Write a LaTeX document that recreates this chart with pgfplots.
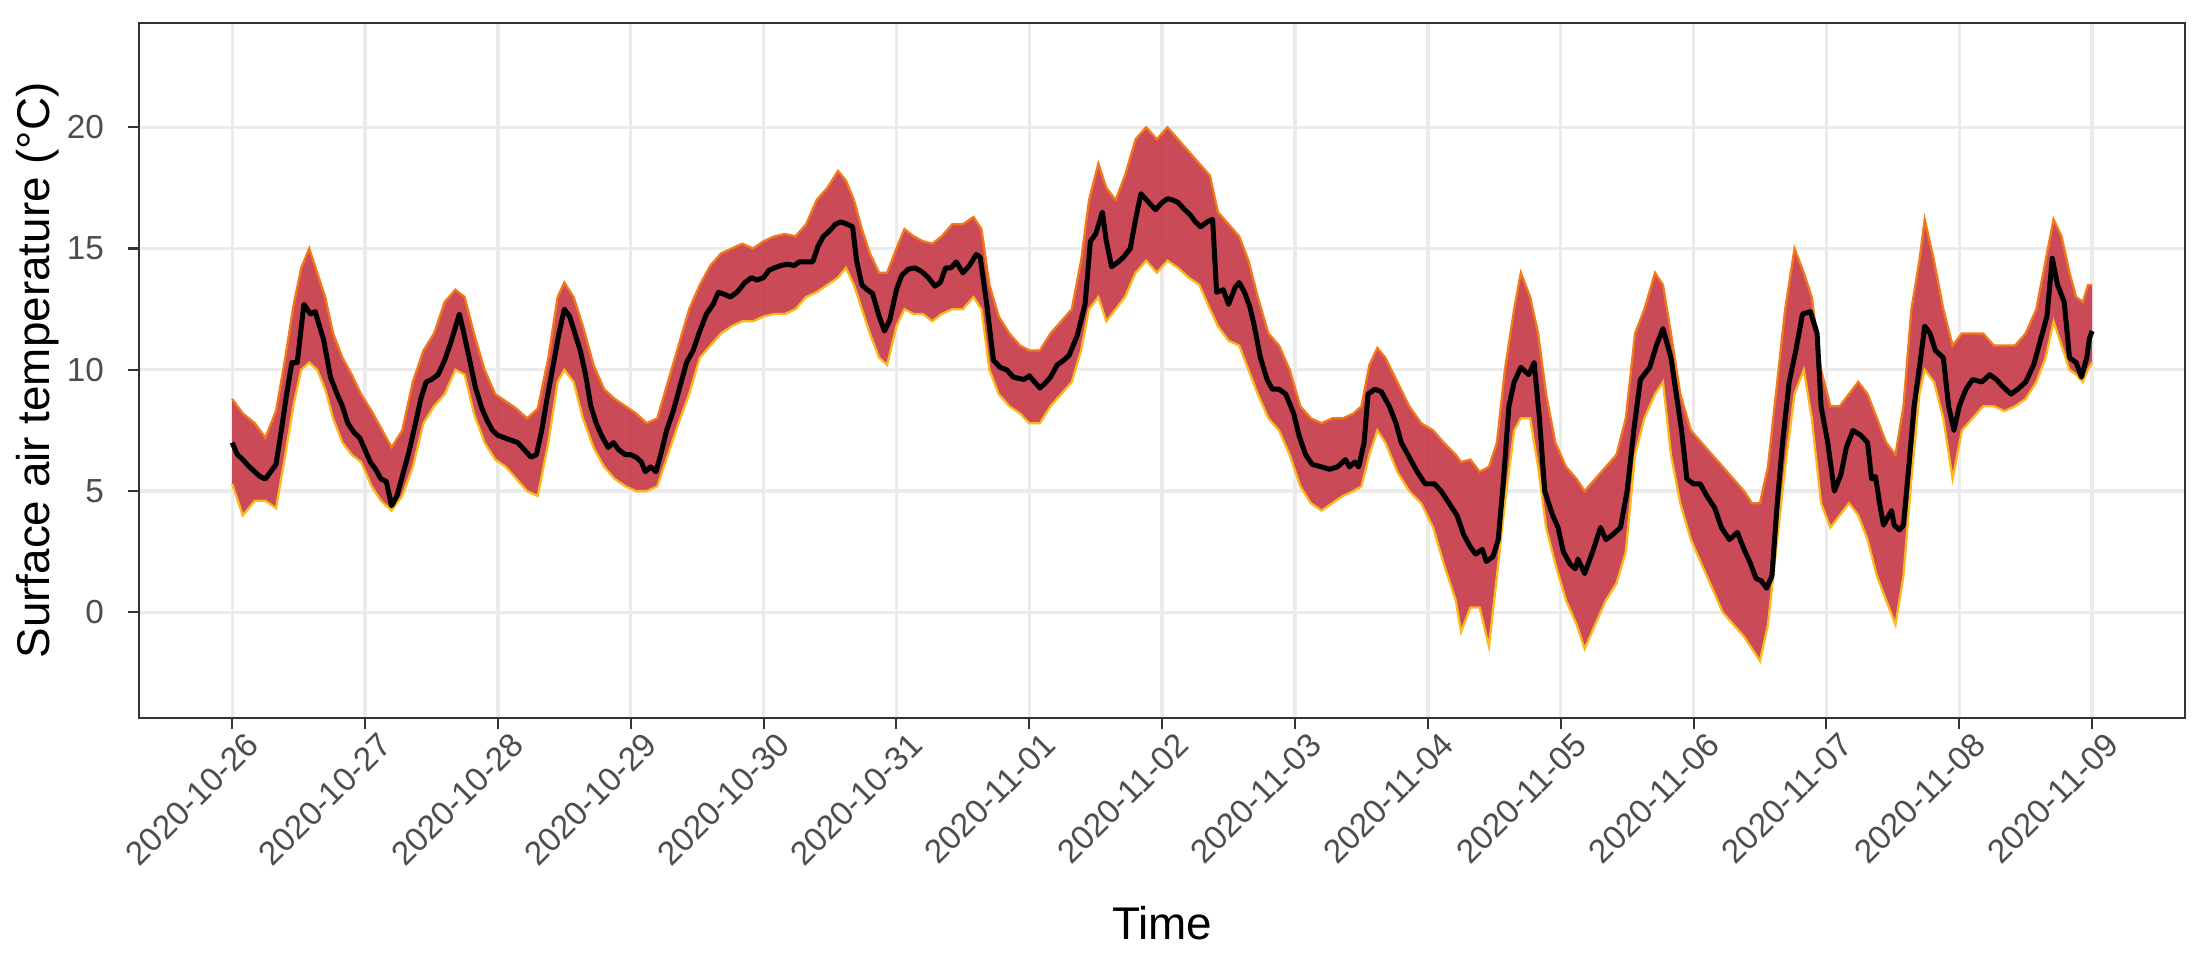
\documentclass[border=0pt]{standalone}
\usepackage{fontspec}
\setmainfont{Liberation Sans}
\usepackage{pgfplots}
\pgfplotsset{compat=1.18}
\usepackage{pgfplotstable}
\usepgfplotslibrary{fillbetween}

\definecolor{gridc}{HTML}{EBEBEB}
\definecolor{framec}{HTML}{333333}
\definecolor{tickc}{HTML}{4D4D4D}
\definecolor{band}{HTML}{C8404F}
\definecolor{ensup}{HTML}{F37819}
\definecolor{enslo}{HTML}{F9B81E}

% ensemble mean (days since 2020-10-26, deg C)
\pgfplotstableread{
d T
0 7.0
0.04 6.5
0.08 6.3
0.13 6.0
0.17 5.8
0.21 5.6
0.25 5.5
0.29 5.8
0.33 6.1
0.37 7.5
0.41 9.0
0.45 10.3
0.49 10.3
0.54 12.7
0.59 12.3
0.625 12.4
0.69 11.2
0.74 9.7
0.79 9.0
0.83 8.5
0.87 7.8
0.92 7.4
0.96 7.2
1.0 6.7
1.04 6.2
1.08 5.9
1.12 5.5
1.16 5.4
1.2 4.4
1.24 4.8
1.29 5.8
1.33 6.6
1.38 7.8
1.42 8.8
1.46 9.5
1.5 9.6
1.55 9.8
1.6 10.4
1.65 11.2
1.71 12.3
1.74 11.6
1.78 10.6
1.83 9.3
1.88 8.4
1.92 7.9
1.96 7.5
2.0 7.3
2.05 7.2
2.1 7.1
2.15 7.0
2.2 6.7
2.25 6.4
2.29 6.5
2.33 7.5
2.37 8.8
2.42 10.3
2.46 11.5
2.5 12.5
2.54 12.2
2.58 11.5
2.62 10.8
2.66 9.8
2.7 8.5
2.74 7.8
2.78 7.3
2.83 6.8
2.87 7.0
2.91 6.7
2.96 6.5
3.0 6.5
3.04 6.4
3.08 6.2
3.11 5.8
3.15 6.0
3.19 5.8
3.23 6.6
3.27 7.5
3.32 8.3
3.37 9.3
3.42 10.3
3.47 10.8
3.52 11.6
3.57 12.3
3.62 12.7
3.66 13.2
3.71 13.1
3.75 13.0
3.8 13.2
3.86 13.6
3.91 13.8
3.95 13.7
4.0 13.8
4.04 14.1
4.08 14.2
4.13 14.3
4.18 14.35
4.23 14.3
4.27 14.45
4.32 14.45
4.37 14.45
4.41 15.1
4.45 15.5
4.5 15.75
4.54 16.0
4.58 16.1
4.63 16.0
4.67 15.9
4.7 14.5
4.74 13.5
4.78 13.3
4.82 13.15
4.87 12.2
4.91 11.6
4.95 12.05
5.0 13.3
5.04 13.9
5.09 14.15
5.14 14.2
5.19 14.05
5.24 13.8
5.29 13.45
5.33 13.6
5.37 14.2
5.41 14.2
5.45 14.45
5.5 14.0
5.55 14.3
5.6 14.75
5.63 14.65
5.68 12.7
5.73 10.4
5.78 10.1
5.83 10.0
5.88 9.7
5.96 9.6
6.0 9.75
6.04 9.5
6.08 9.25
6.12 9.45
6.16 9.7
6.21 10.2
6.26 10.4
6.3 10.6
6.36 11.4
6.42 12.7
6.46 15.3
6.5 15.6
6.55 16.5
6.58 15.3
6.62 14.25
6.67 14.45
6.71 14.65
6.76 15.0
6.8 16.2
6.84 17.26
6.9 16.9
6.95 16.6
7.0 16.9
7.04 17.05
7.08 17.0
7.12 16.9
7.17 16.6
7.21 16.4
7.25 16.1
7.29 15.9
7.34 16.1
7.38 16.2
7.41 13.2
7.46 13.3
7.5 12.7
7.55 13.4
7.58 13.6
7.62 13.2
7.66 12.6
7.69 11.9
7.74 10.5
7.79 9.6
7.83 9.2
7.88 9.2
7.93 9.0
7.99 8.2
8.03 7.3
8.08 6.5
8.13 6.1
8.2 6.0
8.26 5.9
8.32 6.0
8.38 6.3
8.41 6.0
8.45 6.2
8.48 6.0
8.52 7.0
8.55 9.0
8.6 9.2
8.65 9.1
8.71 8.5
8.76 7.8
8.8 7.0
8.85 6.5
8.92 5.8
8.98 5.3
9.05 5.3
9.1 5.0
9.16 4.5
9.22 4.0
9.27 3.2
9.32 2.7
9.36 2.4
9.41 2.6
9.44 2.1
9.49 2.3
9.53 3.0
9.57 5.5
9.61 8.5
9.65 9.5
9.7 10.1
9.76 9.8
9.8 10.3
9.84 8.0
9.88 5.0
9.94 4.0
9.98 3.5
10.02 2.5
10.07 2.0
10.11 1.8
10.13 2.2
10.18 1.6
10.24 2.5
10.3 3.5
10.34 3.0
10.39 3.2
10.45 3.5
10.5 5.0
10.55 7.5
10.6 9.6
10.67 10.1
10.72 11.0
10.77 11.7
10.83 10.5
10.87 9.0
10.91 7.5
10.95 5.5
11.0 5.3
11.05 5.3
11.1 4.8
11.16 4.3
11.21 3.5
11.27 3.0
11.33 3.3
11.38 2.6
11.43 2.0
11.47 1.4
11.51 1.3
11.55 1.0
11.59 1.5
11.63 4.5
11.67 7.0
11.72 9.5
11.77 10.8
11.82 12.3
11.88 12.4
11.93 11.5
11.96 8.5
12.01 7.0
12.06 5.0
12.11 5.7
12.15 6.8
12.2 7.5
12.26 7.3
12.31 7.0
12.34 5.5
12.37 5.6
12.4 4.5
12.43 3.6
12.49 4.2
12.51 3.6
12.55 3.4
12.58 3.6
12.62 6.0
12.66 8.5
12.71 10.5
12.74 11.8
12.78 11.5
12.82 10.8
12.88 10.5
12.92 8.5
12.96 7.5
13.0 8.5
13.05 9.2
13.1 9.6
13.17 9.5
13.23 9.8
13.28 9.6
13.33 9.3
13.39 9.0
13.44 9.2
13.5 9.5
13.56 10.2
13.6 11.0
13.66 12.2
13.7 14.6
13.74 13.5
13.79 12.8
13.83 10.5
13.88 10.3
13.92 9.7
13.96 10.5
13.98 11.3
14.0 11.6
}\meanT

% ensemble spread: upper and lower edge of the members
\pgfplotstableread{
d up lo
0 8.8 5.3
0.08 8.2 4.0
0.17 7.8 4.6
0.25 7.2 4.6
0.33 8.3 4.3
0.4 10.5 6.5
0.46 12.6 8.5
0.52 14.2 10.0
0.58 15.0 10.3
0.64 14.0 10.0
0.7 13.0 9.2
0.76 11.5 8.0
0.83 10.5 7.0
0.9 9.8 6.5
0.97 9.0 6.2
1.05 8.3 5.2
1.12 7.6 4.6
1.2 6.8 4.2
1.28 7.5 4.8
1.36 9.5 6.0
1.44 10.8 7.8
1.52 11.5 8.5
1.6 12.8 9.0
1.68 13.3 10.0
1.75 13.0 9.8
1.82 11.5 8.2
1.9 10.0 7.0
1.98 9.0 6.3
2.06 8.7 6.0
2.14 8.4 5.5
2.22 8.0 5.0
2.3 8.4 4.8
2.38 10.5 7.0
2.45 13.0 9.5
2.5 13.6 10.0
2.57 13.0 9.5
2.64 11.8 8.0
2.72 10.2 6.8
2.8 9.2 6.0
2.88 8.8 5.5
2.96 8.5 5.2
3.04 8.2 5.0
3.12 7.8 5.0
3.2 8.0 5.2
3.28 9.5 6.5
3.36 11.0 7.8
3.44 12.5 9.0
3.52 13.5 10.5
3.6 14.3 11.0
3.68 14.8 11.5
3.76 15.0 11.8
3.84 15.2 12.0
3.92 15.0 12.0
4.0 15.3 12.2
4.08 15.5 12.3
4.16 15.6 12.3
4.24 15.5 12.5
4.32 16.0 13.0
4.4 17.0 13.2
4.48 17.5 13.5
4.56 18.2 13.8
4.62 17.8 14.2
4.68 17.0 13.5
4.74 15.8 12.5
4.8 14.8 11.5
4.87 14.0 10.5
4.93 14.0 10.2
5.0 15.0 11.8
5.06 15.8 12.5
5.13 15.5 12.3
5.2 15.3 12.3
5.27 15.2 12.0
5.34 15.5 12.3
5.42 16.0 12.5
5.5 16.0 12.5
5.58 16.3 13.0
5.64 15.8 12.5
5.7 13.5 10.0
5.77 12.2 9.0
5.85 11.5 8.5
5.93 11.0 8.2
6.0 10.8 7.8
6.08 10.8 7.8
6.16 11.5 8.5
6.24 12.0 9.0
6.32 12.5 9.5
6.39 14.5 10.8
6.45 17.0 12.5
6.52 18.5 13.0
6.58 17.5 12.0
6.65 17.0 12.5
6.72 18.0 13.0
6.8 19.5 14.0
6.88 20.0 14.5
6.96 19.5 14.0
7.04 20.0 14.5
7.12 19.5 14.2
7.2 19.0 13.8
7.28 18.5 13.5
7.36 18.0 12.5
7.42 16.5 11.8
7.5 16.0 11.2
7.58 15.5 11.0
7.65 14.5 10.0
7.72 13.0 9.0
7.8 11.5 8.0
7.88 11.0 7.5
7.96 10.0 6.5
8.04 8.5 5.2
8.12 8.0 4.5
8.2 7.8 4.2
8.28 8.0 4.5
8.36 8.0 4.8
8.44 8.2 5.0
8.5 8.5 5.2
8.56 10.2 6.5
8.62 10.9 7.5
8.68 10.5 7.0
8.77 9.5 5.8
8.86 8.5 5.0
8.95 7.8 4.5
9.04 7.5 3.5
9.12 7.0 2.0
9.21 6.5 0.5
9.25 6.2 -0.8
9.32 6.3 0.2
9.39 5.8 0.2
9.46 6.0 -1.4
9.52 7.0 1.5
9.58 10.0 4.5
9.65 12.5 7.5
9.7 14.0 8.0
9.77 13.0 8.0
9.83 11.5 6.0
9.89 9.0 3.5
9.96 7.0 2.0
10.04 6.0 0.5
10.12 5.5 -0.5
10.18 5.0 -1.5
10.26 5.5 -0.5
10.34 6.0 0.5
10.42 6.5 1.2
10.49 8.0 2.5
10.56 11.5 6.5
10.63 12.5 8.0
10.71 14.0 9.0
10.77 13.5 9.5
10.83 11.5 6.5
10.9 9.0 4.5
10.98 7.5 3.0
11.06 7.0 2.0
11.14 6.5 1.0
11.22 6.0 0.0
11.3 5.5 -0.5
11.38 5.0 -1.0
11.44 4.5 -1.5
11.5 4.5 -2.0
11.56 6.0 -0.5
11.62 9.0 2.5
11.69 12.5 6.0
11.76 15.0 9.0
11.83 14.0 10.0
11.89 13.0 8.0
11.96 10.0 4.5
12.03 8.5 3.5
12.1 8.5 4.0
12.17 9.0 4.5
12.24 9.5 4.0
12.31 9.0 3.0
12.38 8.0 1.5
12.45 7.0 0.5
12.52 6.5 -0.5
12.58 8.5 1.5
12.64 12.5 5.5
12.7 14.5 9.0
12.74 16.2 10.0
12.81 14.5 9.5
12.88 12.5 8.0
12.95 11.0 5.5
13.02 11.5 7.5
13.1 11.5 8.0
13.18 11.5 8.5
13.26 11.0 8.5
13.34 11.0 8.3
13.42 11.0 8.5
13.5 11.5 8.8
13.58 12.5 9.5
13.65 14.5 10.5
13.71 16.2 12.0
13.77 15.5 11.0
13.83 14.0 10.0
13.88 13.0 9.8
13.93 12.8 9.5
13.97 13.5 10.0
14.0 13.5 10.3
}\spread

\begin{document}
\begin{tikzpicture}
\begin{axis}[
    name=ax,
    scale only axis,
    width=491pt, height=166.8pt,
    xmin=-0.7, xmax=14.7,
    ymin=-4.35, ymax=24.3,
    xtick={0,...,14},
    xticklabels={2020-10-26,2020-10-27,2020-10-28,2020-10-29,2020-10-30,2020-10-31,2020-11-01,2020-11-02,2020-11-03,2020-11-04,2020-11-05,2020-11-06,2020-11-07,2020-11-08,2020-11-09},
    ytick={0,5,10,15,20},
    /pgf/number format/assume math mode=true,
    tick pos=left,
    tick align=outside,
    major tick length=2.75pt,
    tick style={framec, line width=0.5pt},
    axis line style={framec, line width=0.5pt},
    xmajorgrids, ymajorgrids,
    major grid style={gridc, line width=0.8pt},
    xticklabel style={font=\fontsize{8}{9.5}\selectfont, text=tickc, rotate=45, anchor=north east, inner sep=0pt, yshift=-2pt, xshift=2pt},
    yticklabel style={font=\fontsize{8}{9.5}\selectfont, text=tickc, inner sep=0pt, xshift=-5.5pt},
    every axis x label/.style={at={(rel axis cs:0.5,0)}, anchor=north, yshift=-45pt, inner sep=0pt, font=\fontsize{11}{13}\selectfont},
    every axis y label/.style={at={(axis description cs:-0.0387,0.5)}, rotate=90, anchor=south, inner sep=0pt, font=\fontsize{11}{13}\selectfont},
    xlabel={Time},
    ylabel={Surface air temperature (°C)},
]
\addplot[draw=none, name path=up, forget plot] table[x=d, y=up] {\spread};
\addplot[draw=none, name path=lo, forget plot] table[x=d, y=lo] {\spread};
\addplot[band, fill opacity=0.95, draw=none] fill between[of=up and lo];
\addplot[ensup, line width=0.55pt] table[x=d, y=up] {\spread};
\addplot[enslo, line width=0.55pt] table[x=d, y=lo] {\spread};
\addplot[black, line width=1.2pt, line join=round] table[x=d, y=T] {\meanT};
\end{axis}
\pgfresetboundingbox
\path[use as bounding box] ([xshift=-33.4pt, yshift=-61.4pt]ax.south west) rectangle ([xshift=5.5pt, yshift=5.5pt]ax.north east);
\end{tikzpicture}
\end{document}
